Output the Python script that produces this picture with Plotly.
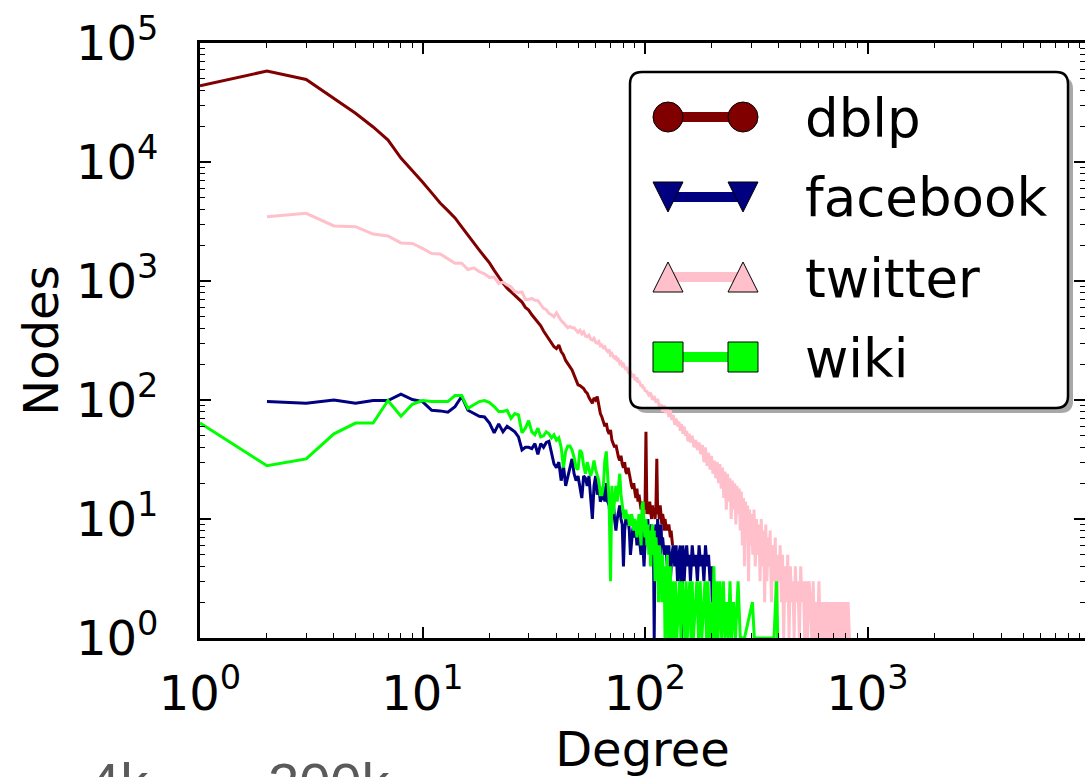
import plotly.graph_objects as go

# ---------------- data ----------------
dblp_deg = list(range(1, 134))
dblp_cnt = [43600, 58200, 49400, 34500, 25700, 19700, 15300, 10800, 8550, 6800,
            5500, 4520, 3900, 3390, 2850, 2450, 2100, 1820, 1600, 1420,
            1230, 1070, 960, 870, 810, 750, 700, 665, 600, 570,
            520, 480, 445, 420, 380, 350, 330, 300, 280, 270,
            290, 255, 239, 215, 200, 190, 179, 160, 145, 134,
            132, 128, 125, 118, 114, 105, 100, 94, 104, 100,
            107, 88, 77, 72, 65, 60, 64, 55, 52, 56,
            46, 43, 40, 42, 36, 33, 31, 34, 29, 27,
            30, 25, 24, 27, 24, 21, 19, 18, 20, 17,
            15, 18, 14, 16, 13, 12, 14, 11, 13, 12,
            54, 11, 13, 11, 14, 12, 10, 13, 11, 12,
            10, 13, 32, 11, 12, 10, 13, 11, 9, 11,
            10, 8, 10, 9, 8, 9, 8, 9, 8, 7,
            8, 7, 6]

facebook_deg = list(range(2, 121)) + [122, 124, 126, 128, 130, 132, 134, 136, 138, 140,
                                      142, 144, 146, 148, 150, 152, 154, 156, 158, 160,
                                      163, 166, 169, 172, 175, 178, 181, 184, 187, 190,
                                      193, 196, 199, 202]
facebook_cnt = [97, 94, 100, 94, 99, 99, 112, 101, 97,
                82, 81, 79, 88, 107, 82, 77, 73, 72, 64,
                53, 63, 54, 60, 57, 54, 49, 38, 40, 40,
                39, 43, 35, 43, 40, 44, 45, 36, 29, 27,
                30, 21, 28, 19, 23, 26, 32, 24, 21, 23,
                18, 15, 23, 22, 19, 23, 15, 10, 19, 23,
                16, 19, 14, 15, 19, 14, 20, 14, 13, 9,
                12, 14, 10, 8, 10, 12, 13, 10, 9, 4,
                8, 10, 9, 10, 8, 5, 7, 8, 9, 7,
                8, 6, 7, 8, 6, 5, 8, 5, 4, 6,
                9, 7, 10, 6, 8, 7, 9, 5, 8, 1,
                7, 9, 6, 10, 7, 8, 5, 9, 6, 7,
                5, 6, 4, 6, 3, 5, 6, 4, 6, 3,
                5, 6, 1, 6, 3, 5, 6, 4, 5, 3,
                6, 4, 5, 3, 6, 4, 5, 3, 6, 4,
                5, 3, 4, 1]

twitter_deg = list(range(2, 101)) + [102, 104, 106, 108, 110, 112, 114, 116, 118, 120,
                                     122, 124, 126, 128, 130, 132, 134, 136, 138, 140,
                                     142, 144, 146, 148, 150, 152, 154, 156, 158, 160,
                                     163, 166, 169, 172, 175, 178, 181, 184, 187, 190,
                                     193, 196, 199, 202, 205, 208, 211, 214, 217, 220,
                                     223, 226, 229, 232, 235, 238, 241, 244, 247, 250,
                                     253, 256, 259, 262, 265, 268, 271, 274, 277, 280,
                                     283, 286, 289, 292, 295, 298, 301, 305, 309, 313,
                                     317, 321, 325, 329, 333, 337, 341, 345, 349, 353,
                                     357, 361, 365, 370, 375, 380, 385, 390, 395, 400,
                                     405, 410, 415, 420, 426, 432, 438, 444, 450, 456,
                                     462, 468, 474, 480, 487, 494, 501, 508, 515, 522,
                                     530, 538, 546, 554, 562, 570, 578, 587, 596, 605,
                                     614, 623, 632, 642, 652, 662, 672, 682, 692, 703,
                                     714, 725, 736, 747, 758, 770, 782, 794, 806, 818,
                                     830]
twitter_cnt = [3470, 3700, 2900, 2860, 2480, 2390, 2090, 2070, 1880,
               1700, 1690, 1550, 1410, 1410, 1250, 1290, 1200, 1150, 1070,
               1080, 955, 980, 925, 895, 815, 800, 810, 700, 700,
               715, 690, 685, 630, 590, 575, 535, 520, 500, 540,
               500, 465, 445, 425, 405, 415, 405, 405, 387, 370,
               385, 360, 375, 345, 340, 350, 325, 319, 330, 305,
               300, 310, 285, 290, 275, 280, 262, 255, 265, 239,
               245, 230, 225, 235, 212, 218, 203, 208, 195, 200,
               188, 180, 190, 172, 168, 175, 160, 158, 165, 150,
               148, 155, 140, 145, 138, 130, 135, 125, 128, 120,
               118, 110, 115, 100, 108, 95, 102, 88, 92, 80,
               90, 78, 85, 72, 82, 68, 75, 62, 70, 60,
               66, 55, 63, 52, 60, 50, 55, 45, 52, 44,
               50, 40, 46, 38, 44, 35, 42, 30, 40, 28,
               36, 26, 34, 24, 31, 22, 30, 20, 29, 18,
               27, 15, 25, 12, 24, 14, 22, 10, 21, 12,
               20, 9, 19, 11, 18, 8, 17, 6, 15, 4,
               14, 7, 13, 3, 12, 6, 11, 5, 12, 4,
               10, 5, 9, 3, 10, 4, 8, 2, 9, 3,
               7, 4, 8, 2, 6, 3, 7, 1, 5, 3,
               6, 2, 5, 1, 4, 2, 5, 1, 4, 2,
               3, 1, 4, 2, 3, 1, 4, 2, 3, 1,
               3, 1, 3, 2, 1, 3, 1, 2, 1, 3,
               1, 2, 1, 2, 1, 2, 1, 2, 1, 2,
               1, 2, 1, 2, 1, 2, 1, 2, 1, 2,
               1]

wiki_deg = list(range(1, 136)) + [137, 139, 141, 143, 145, 147, 149, 151, 153, 155,
                                  157, 159, 161, 163, 165, 168, 171, 174, 177, 180,
                                  183, 186, 189, 192, 195, 198, 201, 204, 207, 210,
                                  213, 217, 221, 225, 229, 233, 237, 241, 245, 250,
                                  255, 262, 268, 280, 304, 310, 380, 390, 395]
wiki_cnt = [64, 28, 32, 52, 64, 64, 99, 73, 92, 99,
            97, 97, 97, 109, 109, 85, 91, 97, 99, 95,
            88, 80, 80, 82, 70, 77, 75, 53, 58, 67,
            54, 51, 58, 49, 50, 54, 52, 48, 51, 46,
            48, 40, 27, 37, 41, 41, 38, 33, 27, 26,
            38, 36, 28, 24, 30, 26, 23, 26, 31, 26,
            23, 21, 16, 16, 19, 31, 37, 23, 14, 3,
            19, 11, 16, 19, 14, 19, 24, 16, 13, 11,
            10, 12, 10, 11, 9, 9, 11, 10, 8, 10,
            9, 7, 9, 11, 8, 6, 13, 14, 9, 7,
            10, 6, 9, 5, 8, 4, 7, 9, 5, 8,
            3, 7, 5, 6, 2, 6, 4, 5, 2, 5,
            3, 4, 1, 4, 2, 5, 1, 3, 2, 4,
            1, 3, 2, 3, 1,
            3, 1, 2, 3, 1, 3, 2, 1, 3, 1,
            2, 3, 1, 3, 1, 2, 3, 1, 3, 1,
            2, 3, 1, 3, 1, 2, 1, 4, 1, 3,
            1, 3, 1, 3, 1, 2, 1, 3, 1, 2,
            1, 3, 1, 1, 2, 1, 1, 3, 1]

series_names = ["dblp", "facebook", "twitter", "wiki"]
series_colors = ["#800000", "#000080", "#FFC0CB", "#00FF00"]

x_tick_vals = [1, 10, 100, 1000]
x_tick_text = ["10<sup>0</sup>", "10<sup>1</sup>", "10<sup>2</sup>", "10<sup>3</sup>"]
y_tick_vals = [1, 10, 100, 1000, 10000, 100000]
y_tick_text = ["10<sup>0</sup>", "10<sup>1</sup>", "10<sup>2</sup>", "10<sup>3</sup>",
               "10<sup>4</sup>", "10<sup>5</sup>"]

# ---------------- figure ----------------
W, H = 1085, 777
L, R, T, B = 200, 0, 43, 139
FONT = "DejaVu Sans"

fig = go.Figure()
all_x = [dblp_deg, facebook_deg, twitter_deg, wiki_deg]
all_y = [dblp_cnt, facebook_cnt, twitter_cnt, wiki_cnt]
for name, col, xs, ys in zip(series_names, series_colors, all_x, all_y):
    fig.add_trace(go.Scatter(x=xs, y=ys, mode="lines", name=name,
                             line=dict(color=col, width=3), showlegend=False))

minor_x = [m * 10 ** e for e in range(0, 4) for m in range(2, 10)]
minor_y = [m * 10 ** e for e in range(0, 5) for m in range(2, 10)]

axis_common = dict(type="log", showgrid=False, zeroline=False, showline=True,
                   linecolor="black", linewidth=3, mirror="allticks", automargin=False,
                   ticks="inside", ticklen=11, tickwidth=1.5, tickcolor="black",
                   tickfont=dict(family=FONT, size=48, color="black"))

fig.update_xaxes(range=[0, (W - L) / 222.5], tickvals=x_tick_vals, ticktext=x_tick_text,
                 ticklabelstandoff=11,
                 minor=dict(tickvals=minor_x, ticks="inside", ticklen=5, tickwidth=1,
                            tickcolor="black", showgrid=False),
                 title=dict(text="Degree", font=dict(family=FONT, size=48, color="black"),
                            standoff=20),
                 **axis_common)
fig.update_yaxes(range=[0, 5], tickvals=y_tick_vals, ticktext=y_tick_text,
                 ticklabelstandoff=29,
                 minor=dict(tickvals=minor_y, ticks="inside", ticklen=5, tickwidth=1,
                            tickcolor="black", showgrid=False),
                 title=dict(text="Nodes", font=dict(family=FONT, size=48, color="black"),
                            standoff=3),
                 **axis_common)

# ---------------- hand-made legend (matplotlib style) ----------------
PW = W - L - R
PH = H - T - B


def px(x):
    return (x - L) / PW


def py(y):
    return (H - B - y) / PH


def rounded(x0, y0, x1, y1, r):
    return (f"M {px(x0 + r)} {py(y0)} L {px(x1 - r)} {py(y0)} "
            f"Q {px(x1)} {py(y0)} {px(x1)} {py(y0 + r)} L {px(x1)} {py(y1 - r)} "
            f"Q {px(x1)} {py(y1)} {px(x1 - r)} {py(y1)} L {px(x0 + r)} {py(y1)} "
            f"Q {px(x0)} {py(y1)} {px(x0)} {py(y1 - r)} L {px(x0)} {py(y0 + r)} "
            f"Q {px(x0)} {py(y0)} {px(x0 + r)} {py(y0)} Z")


shapes = []
bx0, by0, bx1, by1 = 630, 72, 1068, 408
shapes.append(dict(type="path", xref="paper", yref="paper", layer="below",
                   path=rounded(bx0 + 5, by0 + 5, bx1 + 5, by1 + 5, 12),
                   fillcolor="#a8a8a8", line=dict(width=0)))
shapes.append(dict(type="path", xref="paper", yref="paper", layer="below",
                   path=rounded(bx0, by0, bx1, by1, 12),
                   fillcolor="white", line=dict(width=0)))
shapes.append(dict(type="path", xref="paper", yref="paper", layer="above",
                   path=rounded(bx0, by0, bx1, by1, 12),
                   fillcolor="rgba(0,0,0,0)", line=dict(color="black", width=2.5)))

row_y = [117, 197, 277, 357]
mx = [668, 743]
ms = 15
for i, (name, col) in enumerate(zip(series_names, series_colors)):
    cy = row_y[i]
    shapes.append(dict(type="line", xref="paper", yref="paper",
                       x0=px(mx[0]), x1=px(mx[1]), y0=py(cy), y1=py(cy),
                       line=dict(color=col, width=10)))
    for cx in mx:
        if i == 0:
            shapes.append(dict(type="circle", xref="paper", yref="paper",
                               x0=px(cx - ms), x1=px(cx + ms), y0=py(cy - ms), y1=py(cy + ms),
                               fillcolor=col, line=dict(color="black", width=1)))
        elif i == 1:
            p = (f"M {px(cx - ms)} {py(cy - ms)} L {px(cx + ms)} {py(cy - ms)} "
                 f"L {px(cx)} {py(cy + ms)} Z")
            shapes.append(dict(type="path", xref="paper", yref="paper", path=p,
                               fillcolor=col, line=dict(color="black", width=1)))
        elif i == 2:
            p = (f"M {px(cx - ms)} {py(cy + ms)} L {px(cx + ms)} {py(cy + ms)} "
                 f"L {px(cx)} {py(cy - ms)} Z")
            shapes.append(dict(type="path", xref="paper", yref="paper", path=p,
                               fillcolor=col, line=dict(color="black", width=1)))
        else:
            shapes.append(dict(type="rect", xref="paper", yref="paper",
                               x0=px(cx - ms), x1=px(cx + ms), y0=py(cy - ms), y1=py(cy + ms),
                               fillcolor=col, line=dict(color="black", width=1)))

annotations = []
for i, name in enumerate(series_names):
    annotations.append(dict(xref="paper", yref="paper", x=px(803), y=py(row_y[i] + 1),
                            xanchor="left", yanchor="middle", showarrow=False, text=name,
                            font=dict(family=FONT, size=53, color="black")))

# partially visible caption text at the bottom of the picture
cap_font = dict(family="Liberation Sans", size=56, color="#5a5a5a")
annotations.append(dict(xref="paper", yref="paper", x=px(5), y=py(749), xanchor="right",
                        yanchor="top", showarrow=False, text="to", font=cap_font))
annotations.append(dict(xref="paper", yref="paper", x=px(87), y=py(749), xanchor="left",
                        yanchor="top", showarrow=False, text="4k", font=cap_font))
annotations.append(dict(xref="paper", yref="paper", x=px(266), y=py(749), xanchor="left",
                        yanchor="top", showarrow=False, text="200k", font=cap_font))

fig.update_layout(width=W, height=H, autosize=False,
                  margin=dict(l=L, r=R, t=T, b=B, pad=0),
                  paper_bgcolor="white", plot_bgcolor="white",
                  shapes=shapes, annotations=annotations, showlegend=False)

fig.write_html("out.html")
